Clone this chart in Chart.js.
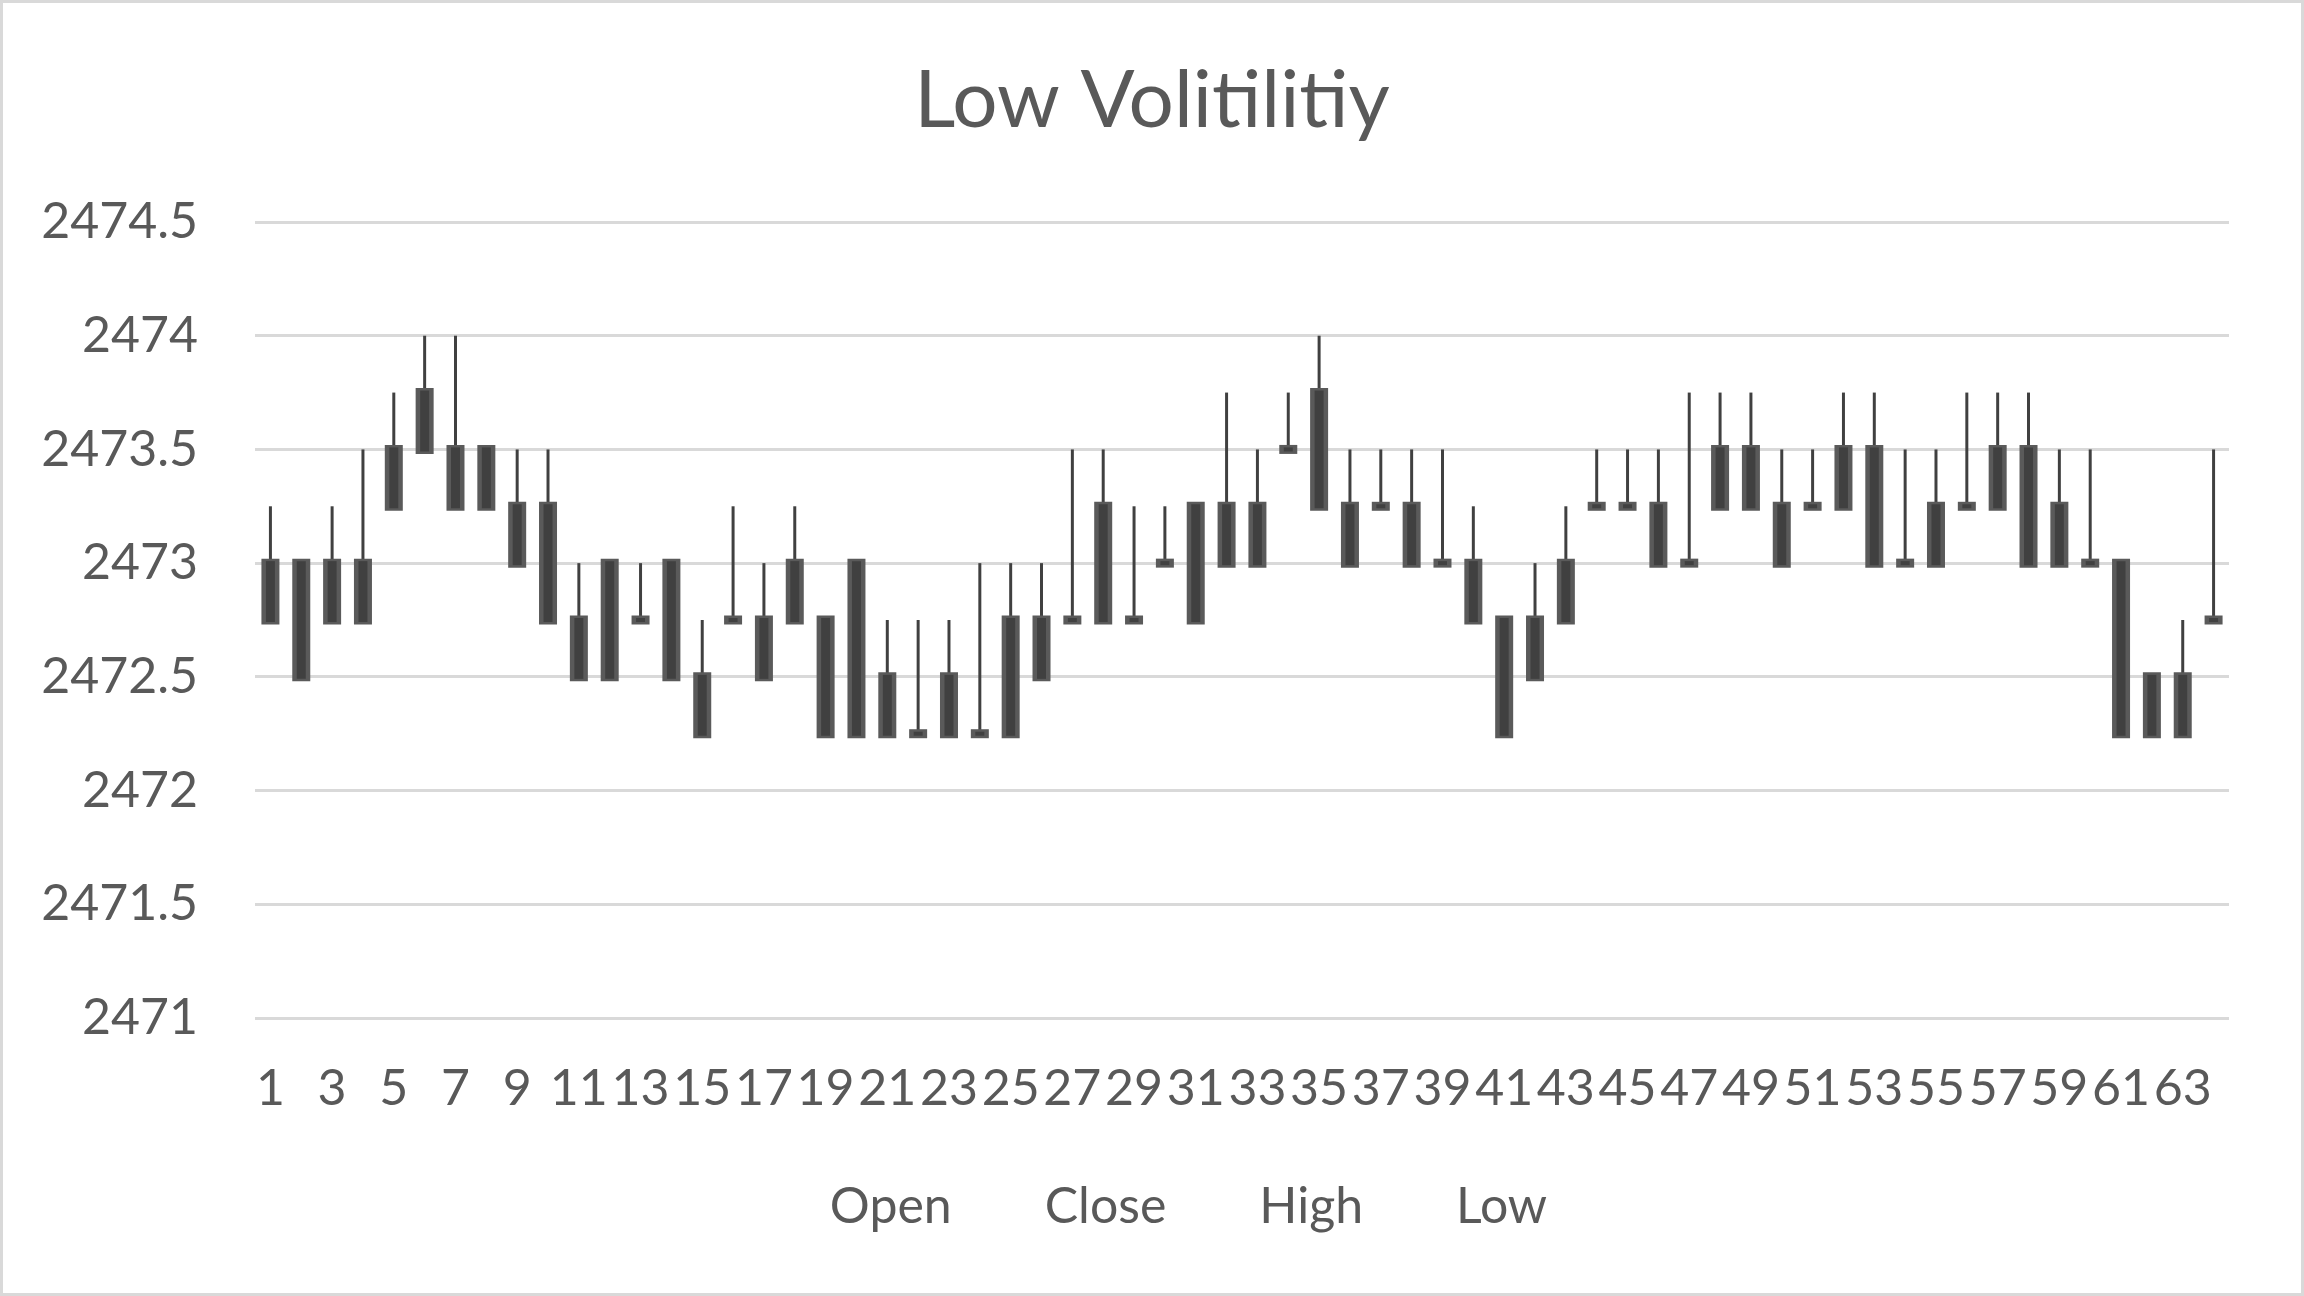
<!DOCTYPE html>
<html>
<head>
<meta charset="utf-8">
<title>Low Volitilitiy</title>
<script src="https://cdn.jsdelivr.net/npm/chart.js@4.4.1/dist/chart.umd.min.js"></script>
<style>
  html, body { margin: 0; padding: 0; background: #ffffff; }
  #wrap { position: relative; width: 2304px; height: 1296px; }
  #frame { position: absolute; left: 0; top: 0; right: 0; bottom: 0; border: 3px solid #d9d9d9; pointer-events: none; }
</style>
</head>
<body>
<div id="wrap">
  <canvas id="grafico" width="2304" height="1296" style="width:2304px;height:1296px"></canvas>
  <div id="frame"></div>
</div>
<script>
// Categorias (sessões)
const categories = [1, 2, 3, 4, 5, 6, 7, 8, 9, 10, 11, 12, 13, 14, 15, 16,
    17, 18, 19, 20, 21, 22, 23, 24, 25, 26, 27, 28, 29, 30, 31, 32,
    33, 34, 35, 36, 37, 38, 39, 40, 41, 42, 43, 44, 45, 46, 47, 48,
    49, 50, 51, 52, 53, 54, 55, 56, 57, 58, 59, 60, 61, 62, 63, 64];

// Topo do corpo
const open = [2473, 2473, 2473, 2473, 2473.5, 2473.75, 2473.5, 2473.5,
    2473.25, 2473.25, 2472.75, 2473, 2472.75, 2473, 2472.5, 2472.75,
    2472.75, 2473, 2472.75, 2473, 2472.5, 2472.25, 2472.5, 2472.25,
    2472.75, 2472.75, 2472.75, 2473.25, 2472.75, 2473, 2473.25, 2473.25,
    2473.25, 2473.5, 2473.75, 2473.25, 2473.25, 2473.25, 2473, 2473,
    2472.75, 2472.75, 2473, 2473.25, 2473.25, 2473.25, 2473, 2473.5,
    2473.5, 2473.25, 2473.25, 2473.5, 2473.5, 2473, 2473.25, 2473.25,
    2473.5, 2473.5, 2473.25, 2473, 2473, 2472.5, 2472.5, 2472.75];

// Base do corpo
const close = [2472.75, 2472.5, 2472.75, 2472.75, 2473.25, 2473.5, 2473.25, 2473.25,
    2473, 2472.75, 2472.5, 2472.5, 2472.75, 2472.5, 2472.25, 2472.75,
    2472.5, 2472.75, 2472.25, 2472.25, 2472.25, 2472.25, 2472.25, 2472.25,
    2472.25, 2472.5, 2472.75, 2472.75, 2472.75, 2473, 2472.75, 2473,
    2473, 2473.5, 2473.25, 2473, 2473.25, 2473, 2473, 2472.75,
    2472.25, 2472.5, 2472.75, 2473.25, 2473.25, 2473, 2473, 2473.25,
    2473.25, 2473, 2473.25, 2473.25, 2473, 2473, 2473, 2473.25,
    2473.25, 2473, 2473, 2473, 2472.25, 2472.25, 2472.25, 2472.75];

// Máxima (topo do pavio)
const high = [2473.25, 2473, 2473.25, 2473.5, 2473.75, 2474, 2474, 2473.5,
    2473.5, 2473.5, 2473, 2473, 2473, 2473, 2472.75, 2473.25,
    2473, 2473.25, 2472.75, 2473, 2472.75, 2472.75, 2472.75, 2473,
    2473, 2473, 2473.5, 2473.5, 2473.25, 2473.25, 2473.25, 2473.75,
    2473.5, 2473.75, 2474, 2473.5, 2473.5, 2473.5, 2473.5, 2473.25,
    2472.75, 2473, 2473.25, 2473.5, 2473.5, 2473.5, 2473.75, 2473.75,
    2473.75, 2473.5, 2473.5, 2473.75, 2473.75, 2473.5, 2473.5, 2473.75,
    2473.75, 2473.75, 2473.5, 2473.5, 2473, 2472.5, 2472.75, 2473.5];

// Mínima (sem pavio inferior no gráfico)
const low = [2472.75, 2472.5, 2472.75, 2472.75, 2473.25, 2473.5, 2473.25, 2473.25,
    2473, 2472.75, 2472.5, 2472.5, 2472.75, 2472.5, 2472.25, 2472.75,
    2472.5, 2472.75, 2472.25, 2472.25, 2472.25, 2472.25, 2472.25, 2472.25,
    2472.25, 2472.5, 2472.75, 2472.75, 2472.75, 2473, 2472.75, 2473,
    2473, 2473.5, 2473.25, 2473, 2473.25, 2473, 2473, 2472.75,
    2472.25, 2472.5, 2472.75, 2473.25, 2473.25, 2473, 2473, 2473.25,
    2473.25, 2473, 2473.25, 2473.25, 2473, 2473, 2473, 2473.25,
    2473.25, 2473, 2473, 2473, 2472.25, 2472.25, 2472.25, 2472.75];

// Nomes da legenda
const seriesNames = ['Open', 'Close', 'High', 'Low'];

// Eixo Y
const yMin = 2471;
const yMax = 2474.5;
const yStep = 0.5;

const textColor = '#595959';
const tickFont = { family: 'Lato', size: 50, weight: 'normal' };

function makeLegendLabels() {
    return seriesNames.map(function(name) {
        return {
            text: name,
            fillStyle: 'rgba(0,0,0,0)',
            strokeStyle: 'rgba(0,0,0,0)',
            lineWidth: 0,
            fontColor: textColor,
            hidden: false,
            datasetIndex: 0
        };
    });
}

window.onload = function() {
    const ctx = document.getElementById('grafico').getContext('2d');
    const wicks = categories.map((c, i) => [low[i], high[i]]);
    const bodies = categories.map((c, i) => [close[i], open[i]]);

    new Chart(ctx, {
        type: 'bar',
        data: {
            labels: categories,
            datasets: [
                { label: 'Corpo', data: bodies, backgroundColor: '#404040', barThickness: 5, inflateAmount: 2, grouped: false, order: 1 },
                { label: 'Borda', data: bodies, backgroundColor: '#5a5a5a', barThickness: 9, inflateAmount: 4.5, grouped: false, order: 2 },
                { label: 'Pavio', data: wicks, backgroundColor: '#404040', barThickness: 3, inflateAmount: 0, grouped: false, order: 3 }
            ]
        },
        options: {
            responsive: false,
            devicePixelRatio: 1,
            animation: false,
            layout: { padding: { top: 20, left: 40, right: 40, bottom: 54 } },
            plugins: {
                title: {
                    display: true,
                    text: 'Low Volitilitiy',
                    color: textColor,
                    font: { family: 'Lato', size: 80, weight: 'normal' },
                    padding: { top: 33, bottom: 73 }
                },
                legend: {
                    position: 'bottom',
                    labels: {
                        generateLabels: makeLegendLabels,
                        boxWidth: 48,
                        boxHeight: 48,
                        padding: 20,
                        color: textColor,
                        font: tickFont
                    }
                },
                tooltip: { enabled: false }
            },
            scales: {
                x: {
                    grid: { display: false },
                    border: { display: false },
                    ticks: {
                        autoSkip: false,
                        maxRotation: 0,
                        minRotation: 0,
                        padding: 33,
                        color: textColor,
                        font: tickFont,
                        callback: (v, i) => (i % 2 === 0 ? String(categories[i]) : '')
                    },
                    afterFit: s => { s.height = 144; }
                },
                y: {
                    min: yMin,
                    max: yMax,
                    beginAtZero: false,
                    grid: { color: '#d9d9d9', lineWidth: 3, drawTicks: false },
                    border: { display: false },
                    ticks: {
                        stepSize: yStep,
                        padding: 57,
                        color: textColor,
                        font: tickFont,
                        callback: v => String(v)
                    },
                    afterFit: s => { s.width = 215; }
                },
                // espaço vazio à direita, só para margem
                yRight: {
                    position: 'right',
                    grid: { display: false },
                    border: { display: false },
                    ticks: { display: false },
                    afterFit: s => { s.width = 35; }
                }
            }
        }
    });
};
</script>
</body>
</html>
